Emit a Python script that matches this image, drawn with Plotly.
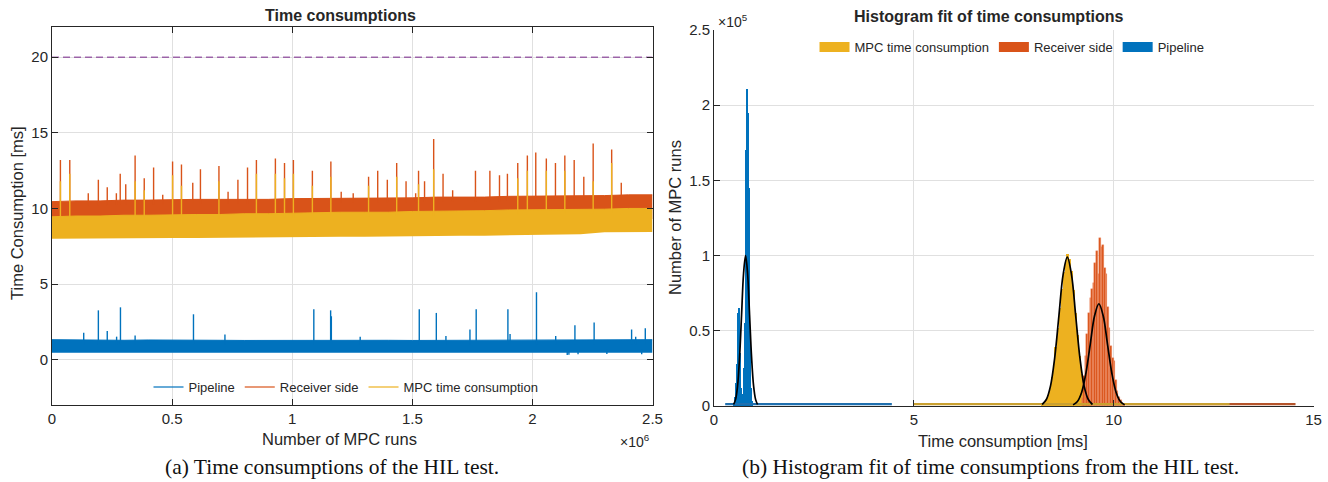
import numpy as np
import plotly.graph_objects as go

W, H = 1328, 482
SANS = "Liberation Sans, Arial, Helvetica, sans-serif"
SERIF = "Liberation Serif, Times New Roman, serif"

BLUE = "#0072BD"
ORANGE = "#D95319"
YELLOW = "#EDB120"
PURPLE = "rgba(126,47,142,0.7)"

# ---------------- panel (a): time series (x in 1e6 MPC runs, y in ms) ----------------
env_x = [0.0, 0.1, 0.2, 0.3, 0.4, 0.5, 0.6, 0.7, 0.8, 0.9, 1.0, 1.1, 1.2,
         1.3, 1.4, 1.5, 1.6, 1.7, 1.8, 1.9, 2.0, 2.1, 2.2, 2.3, 2.4, 2.5]

pipeline_low = [0.45, 0.45, 0.46, 0.45, 0.45, 0.46, 0.45, 0.45, 0.46, 0.45, 0.45, 0.45, 0.46,
                0.45, 0.45, 0.46, 0.45, 0.45, 0.45, 0.46, 0.45, 0.42, 0.42, 0.45, 0.45, 0.45]
pipeline_high = [1.32, 1.30, 1.30, 1.28, 1.30, 1.28, 1.27, 1.28, 1.27, 1.28, 1.28, 1.27, 1.28,
                 1.27, 1.28, 1.27, 1.28, 1.27, 1.28, 1.27, 1.28, 1.28, 1.30, 1.30, 1.32, 1.32]

receiver_low = [9.30, 9.30, 9.30, 9.30, 9.30, 9.30, 9.30, 9.30, 9.30, 9.30, 9.30, 9.30, 9.30,
                9.30, 9.30, 9.30, 9.30, 9.30, 9.30, 9.30, 9.30, 9.30, 9.30, 9.30, 9.30, 9.30]
receiver_high = [10.45, 10.50, 10.50, 10.55, 10.55, 10.60, 10.60, 10.60, 10.60, 10.60, 10.65, 10.65, 10.65,
                 10.70, 10.70, 10.70, 10.75, 10.75, 10.75, 10.80, 10.80, 10.80, 10.85, 10.85, 10.90, 10.90]

mpc_low = [8.00, 8.02, 8.00, 8.03, 8.05, 8.05, 8.05, 8.07, 8.08, 8.08, 8.10, 8.10, 8.12,
           8.12, 8.15, 8.15, 8.18, 8.20, 8.20, 8.22, 8.25, 8.28, 8.30, 8.42, 8.45, 8.45]
mpc_high = [9.45, 9.50, 9.50, 9.55, 9.55, 9.60, 9.60, 9.60, 9.65, 9.65, 9.70, 9.70, 9.75,
            9.75, 9.75, 9.80, 9.80, 9.85, 9.85, 9.90, 9.90, 9.95, 9.95, 9.95, 10.00, 10.00]

receiver_spike_x = [0.035, 0.074, 0.151, 0.193, 0.230, 0.268, 0.284, 0.307, 0.346, 0.384, 0.423,
                    0.461, 0.502, 0.539, 0.586, 0.618, 0.695, 0.733, 0.774, 0.814, 0.851, 0.930,
                    0.968, 1.005, 1.084, 1.161, 1.204, 1.254, 1.318, 1.356, 1.396, 1.435, 1.474,
                    1.514, 1.526, 1.551, 1.589, 1.628, 1.668, 1.763, 1.823, 1.863, 1.896, 1.939,
                    1.979, 2.014, 2.058, 2.096, 2.135, 2.174, 2.214, 2.253, 2.330, 2.370]
receiver_spike_h = [13.2, 13.2, 11.0, 11.9, 11.4, 11.0, 12.3, 11.6, 13.5, 12.0, 12.7,
                    10.9, 13.1, 12.9, 11.7, 12.6, 12.8, 11.1, 11.9, 12.7, 13.2, 13.3,
                    13.0, 13.2, 12.5, 13.1, 11.1, 11.0, 12.1, 12.5, 11.9, 13.0, 11.8,
                    11.0, 12.5, 11.8, 14.6, 12.3, 11.2, 12.5, 12.5, 12.2, 12.3, 13.0,
                    13.5, 13.7, 13.3, 13.0, 13.5, 13.2, 12.1, 14.3, 13.9, 11.7]

mpc_spike_x = [0.035, 0.074, 0.346, 0.384, 0.502, 0.539, 0.695, 0.851, 0.930, 0.968, 1.005,
               1.084, 1.161, 1.318, 1.435, 1.526, 1.589, 1.939, 1.979, 2.058, 2.135, 2.253, 2.330]
mpc_spike_h = [11.8, 12.3, 11.8, 11.2, 12.2, 11.5, 11.8, 12.3, 12.3, 12.0, 12.3,
               11.5, 12.1, 11.5, 12.1, 11.6, 12.6, 12.0, 12.5, 12.5, 12.5, 11.8, 13.0]

pipeline_spike_x = [0.132, 0.193, 0.230, 0.269, 0.285, 0.346, 0.589, 0.720, 1.090, 1.160, 1.163,
                    1.283, 1.529, 1.600, 1.640, 1.740, 1.766, 1.898, 1.907, 2.017, 2.097, 2.177,
                    2.257, 2.413, 2.430, 2.470]
pipeline_spike_h = [1.78, 3.26, 1.89, 1.52, 3.46, 1.59, 3.00, 1.67, 3.33, 3.26, 2.87,
                    1.52, 3.33, 3.09, 1.57, 2.00, 3.33, 3.33, 1.70, 4.46, 1.57, 2.28,
                    2.46, 2.00, 1.52, 2.07]
pipeline_dip_x = [2.145, 2.152, 2.190, 2.310, 2.455]
pipeline_dip_v = [0.30, 0.32, 0.35, 0.38, 0.35]

deadline_ms = 20.0
x_runs_range = [0.0, 2.5]

# ---------------- panel (b): histograms (x in ms, counts in 1e5) ----------------
pipe_bin_w = 0.02
pipe_bins = [0.51, 0.53, 0.55, 0.57, 0.59, 0.61, 0.63, 0.65, 0.67, 0.69, 0.71, 0.73,
             0.75, 0.77, 0.79, 0.81, 0.83, 0.85, 0.87, 0.89, 0.91, 0.93, 0.95]
pipe_counts = [0.02, 0.06, 0.15, 0.28, 0.45, 0.62, 0.65, 0.35, 0.12, 0.06, 0.05, 0.08,
               0.25, 0.55, 0.95, 1.70, 2.11, 1.95, 1.45, 1.05, 0.50, 0.12, 0.03]

recv_bin_w = 0.04
recv_bins = [9.22, 9.26, 9.30, 9.34, 9.38, 9.42, 9.46, 9.50, 9.54, 9.58, 9.62, 9.66, 9.70, 9.74,
             9.78, 9.82, 9.86, 9.90, 9.94, 9.98, 10.02, 10.06, 10.10, 10.14, 10.18, 10.22, 10.26]
recv_counts = [0.05, 0.20, 0.33, 0.48, 0.62, 0.72, 0.78, 0.82, 0.95, 1.03, 0.88, 1.12, 1.06, 1.07,
               0.92, 0.88, 0.66, 0.52, 0.40, 0.32, 0.30, 0.17, 0.10, 0.06, 0.04, 0.02, 0.01]

mpc_bin_w = 0.05
mpc_bins = [8.20, 8.25, 8.30, 8.35, 8.40, 8.45, 8.50, 8.55, 8.60, 8.65, 8.70, 8.75, 8.80,
            8.85, 8.90, 8.95, 9.00, 9.05, 9.10, 9.15, 9.20, 9.25, 9.30, 9.35, 9.40]
mpc_counts = [0.01, 0.02, 0.04, 0.07, 0.12, 0.19, 0.28, 0.39, 0.52, 0.65, 0.78, 0.89, 0.97,
              1.01, 0.98, 0.90, 0.77, 0.62, 0.47, 0.33, 0.21, 0.12, 0.07, 0.03, 0.01]

pipe_fit_x = [0.49, 0.54, 0.59, 0.64, 0.69, 0.74, 0.79, 0.84, 0.89, 0.94, 0.99, 1.04, 1.09]
pipe_fit_y = [0.01, 0.044, 0.135, 0.325, 0.607, 0.883, 1.00, 0.883, 0.607, 0.325, 0.135, 0.044, 0.01]
mpc_fit_x = [8.21, 8.315, 8.42, 8.525, 8.63, 8.735, 8.84, 8.945, 9.05, 9.155, 9.26, 9.365, 9.47]
mpc_fit_y = [0.01, 0.043, 0.134, 0.322, 0.60, 0.874, 0.99, 0.874, 0.60, 0.322, 0.134, 0.043, 0.01]
recv_fit_x = [8.985, 9.0925, 9.20, 9.3075, 9.415, 9.5225, 9.63, 9.7375, 9.845, 9.9525, 10.06, 10.1675, 10.275]
recv_fit_y = [0.0075, 0.03, 0.092, 0.221, 0.412, 0.60, 0.68, 0.60, 0.412, 0.221, 0.092, 0.03, 0.0075]

# sparse low-count tails lying on the baseline (start, end in ms) and their count level (1e5)
tail_start = [10.3, 5.0, 0.28]
tail_end = [14.55, 12.9, 4.45]
tail_level = [0.012, 0.012, 0.012]
tail_colors = ["#B4532A", "#C9A030", "#1F6FAE"]

# ---------------- figure ----------------
fig = go.Figure()
A = dict(xaxis="x", yaxis="y")
B = dict(xaxis="x2", yaxis="y2")
env_arr = np.array(env_x)


def band(lo, hi, color):
    fig.add_trace(go.Scatter(x=env_x, y=lo, mode="lines", line=dict(width=0, color=color),
                             showlegend=False, hoverinfo="skip", **A))
    fig.add_trace(go.Scatter(x=env_x, y=hi, mode="lines", line=dict(width=1, color=color),
                             fill="tonexty", fillcolor=color, showlegend=False, hoverinfo="skip", **A))


def spikes(xs, hs, env_edge, color, width=1.4, offset=-0.3):
    base = np.interp(xs, env_arr, env_edge) + offset
    X, Y = [], []
    for xi, b, h in zip(xs, base, hs):
        X += [xi, xi, None]
        Y += [b, h, None]
    fig.add_trace(go.Scatter(x=X, y=Y, mode="lines", line=dict(color=color, width=width),
                             showlegend=False, hoverinfo="skip", **A))


band(pipeline_low, pipeline_high, BLUE)
spikes(pipeline_spike_x, pipeline_spike_h, pipeline_high, BLUE)
spikes(pipeline_dip_x, pipeline_dip_v, pipeline_low, BLUE, offset=0.2)
band(receiver_low, receiver_high, ORANGE)
spikes(receiver_spike_x, receiver_spike_h, receiver_high, ORANGE)
band(mpc_low, mpc_high, YELLOW)
spikes(mpc_spike_x, mpc_spike_h, mpc_high, YELLOW)

fig.add_trace(go.Scatter(x=x_runs_range, y=[deadline_ms, deadline_ms], mode="lines",
                         line=dict(color=PURPLE, width=1.5, dash="7px,4px"),
                         showlegend=False, hoverinfo="skip", **A))

for name, col in [("Pipeline", "rgba(0,114,189,0.6)"),
                  ("Receiver side", "rgba(217,83,25,0.6)"),
                  ("MPC time consumption", "rgba(237,177,32,0.6)")]:
    fig.add_trace(go.Scatter(x=[None], y=[None], mode="lines", line=dict(color=col, width=2),
                             name=name, legend="legend", **A))

# panel (b)
for s, e, lv, col in zip(tail_start, tail_end, tail_level, tail_colors):
    fig.add_trace(go.Scatter(x=[s, e], y=[lv, lv], mode="lines", line=dict(color=col, width=2.2),
                             showlegend=False, hoverinfo="skip", **B))

fig.add_trace(go.Bar(x=mpc_bins, y=mpc_counts, width=mpc_bin_w, name="MPC time consumption",
                     marker=dict(color=YELLOW, line=dict(width=0)), showlegend=False, **B))
fig.add_trace(go.Bar(x=recv_bins, y=recv_counts, width=recv_bin_w, name="Receiver side",
                     marker=dict(color=ORANGE, line=dict(width=0.5, color="rgba(240,150,115,0.7)")),
                     showlegend=False, **B))
fig.add_trace(go.Bar(x=pipe_bins, y=pipe_counts, width=pipe_bin_w, name="Pipeline",
                     marker=dict(color=BLUE, line=dict(width=0)), showlegend=False, **B))

# legend swatches for the histograms (wide filled boxes as in the original)
for name, col in [("MPC time consumption", YELLOW), ("Receiver side", ORANGE), ("Pipeline", BLUE)]:
    fig.add_trace(go.Scatter(x=[None], y=[None], mode="lines", line=dict(color=col, width=11),
                             name=name, legend="legend2", **B))

for fx, fy in [(pipe_fit_x, pipe_fit_y), (mpc_fit_x, mpc_fit_y), (recv_fit_x, recv_fit_y)]:
    fig.add_trace(go.Scatter(x=fx, y=fy, mode="lines", line=dict(color="black", width=1.7, shape="spline"),
                             showlegend=False, hoverinfo="skip", **B))

AX = "#262626"
GRID = "#E0E0E0"
common = dict(showline=True, linecolor=AX, linewidth=1, ticks="inside", ticklen=6, tickcolor=AX,
              tickwidth=1, showgrid=True, gridcolor=GRID, gridwidth=1, zeroline=False,
              automargin=False, tickfont=dict(family=SANS, size=15, color=AX))


def px(x):
    return x / W


def py(y):
    return 1 - y / H


annotations = [
    dict(text="<b>Time consumptions</b>", x=px(340), y=py(15), font=dict(size=16)),
    dict(text="<b>Histogram fit of time consumptions</b>", x=px(988), y=py(17), font=dict(size=16)),
    dict(text="Number of MPC runs", x=px(339), y=py(439), font=dict(size=16.5)),
    dict(text="Time consumption [ms]", x=px(1003), y=py(441), font=dict(size=16.5)),
    dict(text="Time Consumption [ms]", x=px(17), y=py(213), textangle=-90, font=dict(size=16.5)),
    dict(text="Number of MPC runs", x=px(675), y=py(218), textangle=-90, font=dict(size=16.5)),
    dict(text="×10<sup>6</sup>", x=px(652), y=py(441), xanchor="right", font=dict(size=14)),
    dict(text="×10<sup>5</sup>", x=px(716), y=py(21), xanchor="left", font=dict(size=14)),
    dict(text="(a) Time consumptions of the HIL test.", x=px(332), y=py(467),
         font=dict(family=SERIF, size=21.5, color="#111111")),
    dict(text="(b) Histogram fit of time consumptions from the HIL test.", x=px(990), y=py(467),
         font=dict(family=SERIF, size=21.5, color="#111111")),
]
for a in annotations:
    a.setdefault("xanchor", "center")
    a.setdefault("yanchor", "middle")
    a.update(xref="paper", yref="paper", showarrow=False)
    f = a["font"]
    f.setdefault("family", SANS)
    f.setdefault("color", AX)

fig.update_layout(
    width=W, height=H, margin=dict(l=0, r=0, t=0, b=0, autoexpand=False),
    paper_bgcolor="white", plot_bgcolor="white",
    barmode="overlay", bargap=0,
    font=dict(family=SANS, size=15, color=AX),
    xaxis=dict(domain=[px(52), px(652.5)], range=x_runs_range, tickvals=[0, 0.5, 1, 1.5, 2, 2.5],
               mirror="ticks", anchor="y", **common),
    yaxis=dict(domain=[py(405), py(27)], range=[-3, 22], tickvals=[0, 5, 10, 15, 20],
               mirror="ticks", anchor="x", **common),
    xaxis2=dict(domain=[px(714), px(1313.5)], range=[0, 15], tickvals=[0, 5, 10, 15],
                anchor="y2", **common),
    yaxis2=dict(domain=[py(406), py(30)], range=[0, 2.5], tickvals=[0, 0.5, 1, 1.5, 2, 2.5],
                anchor="x2", **common),
    legend=dict(orientation="h", x=px(346), y=py(387), xanchor="center", yanchor="middle",
                traceorder="normal", bgcolor="rgba(0,0,0,0)",
                font=dict(family=SANS, size=13, color=AX)),
    legend2=dict(orientation="h", x=px(1012), y=py(47), xanchor="center", yanchor="middle",
                 traceorder="normal", bgcolor="rgba(0,0,0,0)",
                 font=dict(family=SANS, size=13, color=AX)),
    annotations=annotations,
    showlegend=True,
)

fig.write_html("out.html", config={"displayModeBar": False},
               post_script="document.body.style.margin='0';document.body.style.overflow='hidden';")
